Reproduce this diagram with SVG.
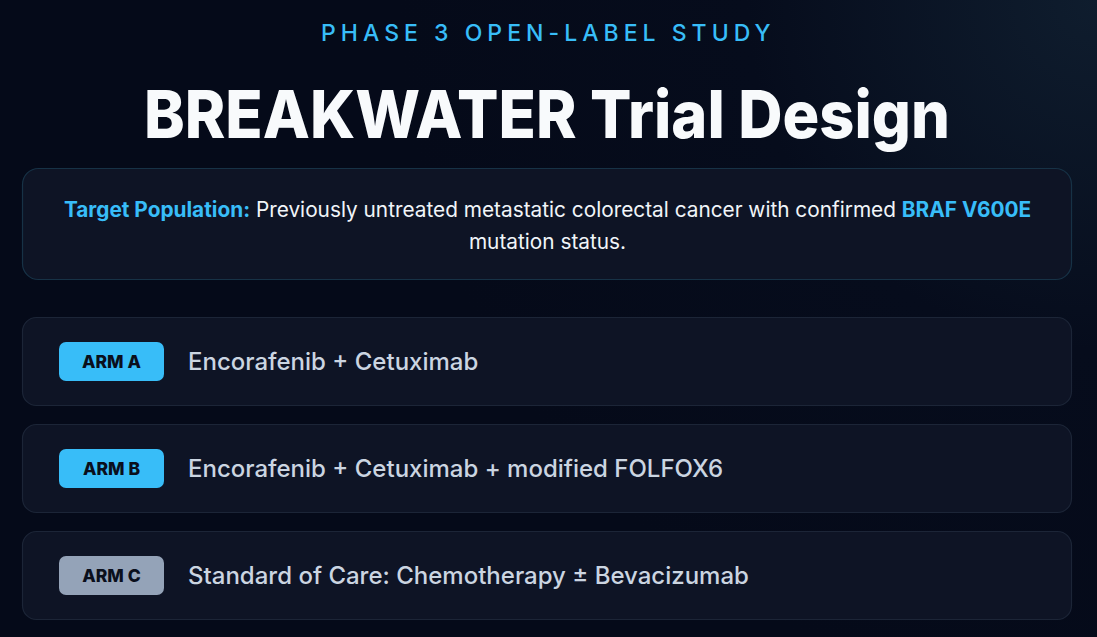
<svg xmlns="http://www.w3.org/2000/svg" width="1097" height="637" viewBox="0 0 1097 637">
<defs>
<radialGradient id="bg" cx="1097" cy="0" r="700" gradientUnits="userSpaceOnUse">
<stop offset="0" stop-color="#0f1d2e"/>
<stop offset="0.5" stop-color="#060c1c"/>
<stop offset="1" stop-color="#050a19"/>
</radialGradient>
<style>
.card{fill:#0e1425;stroke:#1c2537;stroke-width:1.2}
.pop{fill:#0e1425;stroke:#173246;stroke-width:1.2}
.badge{fill:#38bdf8}
.badgec{fill:#94a3b8}
.btxt{font-family:Inter,"Liberation Sans",sans-serif;font-weight:800;font-size:17.5px;fill:#0a0f1c;text-anchor:middle}
.atxt{font-family:Inter,"Liberation Sans",sans-serif;font-weight:500;font-size:24px;fill:#cbd5e1}
.ptxt{font-family:Inter,"Liberation Sans",sans-serif;font-size:20.8px;fill:#f1f5f9;text-anchor:middle}
.hl{fill:#38bdf8;font-weight:700}
</style>
</defs>
<rect width="1097" height="637" fill="url(#bg)"/>
<text x="548" y="41" font-family="Inter,'Liberation Sans',sans-serif" font-size="23" font-weight="500" fill="#38bdf8" text-anchor="middle" letter-spacing="4.5" textLength="454">PHASE 3 OPEN-LABEL STUDY</text>
<text x="547" y="138" font-family="Inter,'Liberation Sans',sans-serif" font-size="66" font-weight="800" fill="#f8fafc" text-anchor="middle" textLength="806" lengthAdjust="spacingAndGlyphs">BREAKWATER Trial Design</text>
<g id="population">
<rect class="pop" x="22.5" y="168.5" width="1049" height="111" rx="16"/>
<text class="ptxt" x="547.5" y="216.5"><tspan class="hl">Target Population:</tspan> Previously untreated metastatic colorectal cancer with confirmed <tspan class="hl">BRAF V600E</tspan></text>
<text class="ptxt" x="547.5" y="248.5">mutation status.</text>
</g>
<g id="armA">
<rect class="card" x="22.5" y="317.5" width="1049" height="88" rx="14"/>
<rect class="badge" x="59" y="342" width="105" height="39" rx="7"/>
<text class="btxt" x="111.5" y="368">ARM A</text>
<text class="atxt" x="188" y="370">Encorafenib + Cetuximab</text>
</g>
<g id="armB">
<rect class="card" x="22.5" y="424.5" width="1049" height="88" rx="14"/>
<rect class="badge" x="59" y="449" width="105" height="39" rx="7"/>
<text class="btxt" x="111.5" y="475">ARM B</text>
<text class="atxt" x="188" y="477">Encorafenib + Cetuximab + modified FOLFOX6</text>
</g>
<g id="armC">
<rect class="card" x="22.5" y="531.5" width="1049" height="88" rx="14"/>
<rect class="badgec" x="59" y="556" width="105" height="39" rx="7"/>
<text class="btxt" x="111.5" y="582">ARM C</text>
<text class="atxt" x="188" y="584">Standard of Care: Chemotherapy ± Bevacizumab</text>
</g>
<g id="connectors"/>
</svg>
